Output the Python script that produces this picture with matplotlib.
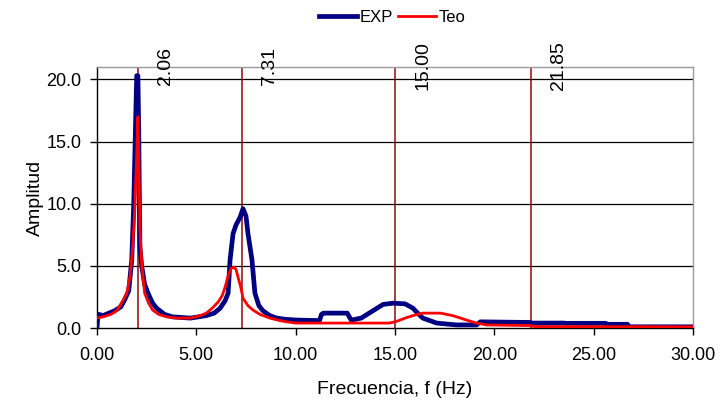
import matplotlib
matplotlib.use("Agg")
import matplotlib.pyplot as plt
from matplotlib.ticker import FormatStrFormatter

plt.rcParams['font.family'] = ['Liberation Sans', 'DejaVu Sans']

exp_f = [0, 0.05, 0.1, 0.3, 0.6, 0.9, 1.2, 1.4, 1.6, 1.75,
         1.85, 1.95, 2.0, 2.06, 2.1, 2.16, 2.25, 2.4, 2.57, 2.8,
         3.0, 3.4, 3.8, 4.7, 5.5, 5.9, 6.2, 6.45, 6.6, 6.7,
         6.85, 7.0, 7.2, 7.35, 7.5, 7.6, 7.8, 7.95, 8.15, 8.35,
         8.7, 9.05, 9.5, 10.1, 11.2, 11.3, 11.4, 12.6, 12.7, 12.8,
         13.3, 13.7, 14.1, 14.4, 14.9, 15.5, 15.9, 16.2, 16.4, 17.1,
         18.1, 19.1, 19.3, 21.8, 21.9, 23.5, 23.6, 25.6, 25.7, 26.7,
         26.8, 30]
exp_a = [0.0, 1.0, 1.1, 1.0, 1.2, 1.4, 1.7, 2.3, 3.0, 5.5,
         10, 17, 20.3, 20.3, 16, 6.5, 5.0, 3.5, 2.8, 2.0,
         1.6, 1.1, 0.9, 0.8, 1.0, 1.2, 1.6, 2.2, 2.8, 5.5,
         7.6, 8.3, 8.9, 9.6, 9.0, 7.6, 5.5, 2.8, 1.8, 1.4,
         1.0, 0.8, 0.7, 0.64, 0.6, 1.1, 1.2, 1.2, 0.9, 0.64,
         0.8, 1.2, 1.6, 1.9, 2.0, 1.95, 1.6, 1.1, 0.8, 0.4,
         0.25, 0.25, 0.5, 0.45, 0.4, 0.4, 0.38, 0.38, 0.3, 0.3,
         0.1, 0.1]

teo_f = [0, 0.3, 0.7, 1.0, 1.3, 1.5, 1.66, 1.8, 1.9, 2.0,
         2.06, 2.1, 2.16, 2.26, 2.4, 2.6, 2.8, 3.1, 3.5, 4.0,
         4.7, 5.2, 5.5, 5.8, 6.1, 6.3, 6.45, 6.6, 6.75, 6.9,
         7.0, 7.1, 7.25, 7.35, 7.6, 7.85, 8.2, 8.7, 9.2, 9.55,
         10, 14.7, 15.0, 15.25, 15.6, 15.9, 16.4, 17.3, 17.9, 18.3,
         18.6, 19.1, 19.6, 21.8, 22.0, 30]
teo_a = [0.8, 0.9, 1.1, 1.4, 2.2, 2.8, 4.1, 6.5, 9.5, 14,
         17, 14, 8.1, 4.9, 2.8, 2.0, 1.45, 1.1, 0.9, 0.8,
         0.8, 1.0, 1.2, 1.6, 2.1, 2.6, 3.3, 4.2, 4.8, 4.9,
         4.7, 4.1, 3.2, 2.4, 1.8, 1.45, 1.1, 0.8, 0.6, 0.5,
         0.4, 0.4, 0.5, 0.64, 0.85, 1.0, 1.2, 1.2, 1.0, 0.8,
         0.64, 0.4, 0.25, 0.2, 0.12, 0.1]

freq_marks = [2.06, 7.31, 15.00, 21.85]
mark_labels = ["2.06", "7.31", "15.00", "21.85"]
x_ticks = [0, 5, 10, 15, 20, 25, 30]
y_ticks = [0, 5, 10, 15, 20]
y_top = 21

fig = plt.figure(figsize=(7.2, 4.05), dpi=100)
ax = fig.add_axes([0.1347, 0.19, 0.8278, 0.6446])

for yv in y_ticks[1:]:
    ax.axhline(yv, color='black', lw=0.9, zorder=1)

# marker frequency lines (pairs joined at top)
for i in range(0, len(freq_marks), 2):
    a, b = freq_marks[i], freq_marks[i + 1]
    ax.plot([a, a, b, b], [0, y_top, y_top, 0], color='#8B0A0A', lw=1.1, zorder=2)
for xv, lab in zip(freq_marks, mark_labels):
    ax.annotate(lab, xy=(xv, y_top), xytext=(20, 1), textcoords='offset points',
                rotation=90, ha='center', va='center', fontsize=14, color='black',
                annotation_clip=False)

ax.plot(exp_f, exp_a, color='#000080', lw=3.4, label='EXP', zorder=3,
        solid_joinstyle='round')
ax.plot(teo_f, teo_a, color='#FF0000', lw=2.0, label='Teo', zorder=4)

ax.set_xlim(0, 30)
ax.set_ylim(0, y_top)
ax.set_xticks(x_ticks)
ax.set_yticks(y_ticks)
ax.xaxis.set_major_formatter(FormatStrFormatter('%.2f'))
ax.yaxis.set_major_formatter(FormatStrFormatter('%.1f'))
ax.tick_params(direction='out', length=5, width=1, labelsize=13, pad=6)
ax.tick_params(axis='x', pad=9)

for s in ['top', 'right']:
    ax.spines[s].set_color('#999999')
    ax.spines[s].set_linewidth(1)
for s in ['left', 'bottom']:
    ax.spines[s].set_color('black')
    ax.spines[s].set_linewidth(1)

ax.set_xlabel('Frecuencia, f (Hz)', fontsize=14, labelpad=12)
ax.set_ylabel('Amplitud', fontsize=14, labelpad=2)

fig.legend(loc='center', bbox_to_anchor=(0.545, 0.957), ncol=2, frameon=False,
           fontsize=12, handlelength=2.3, columnspacing=0.3, handletextpad=0.15)

fig.savefig('out.png', dpi=100)
